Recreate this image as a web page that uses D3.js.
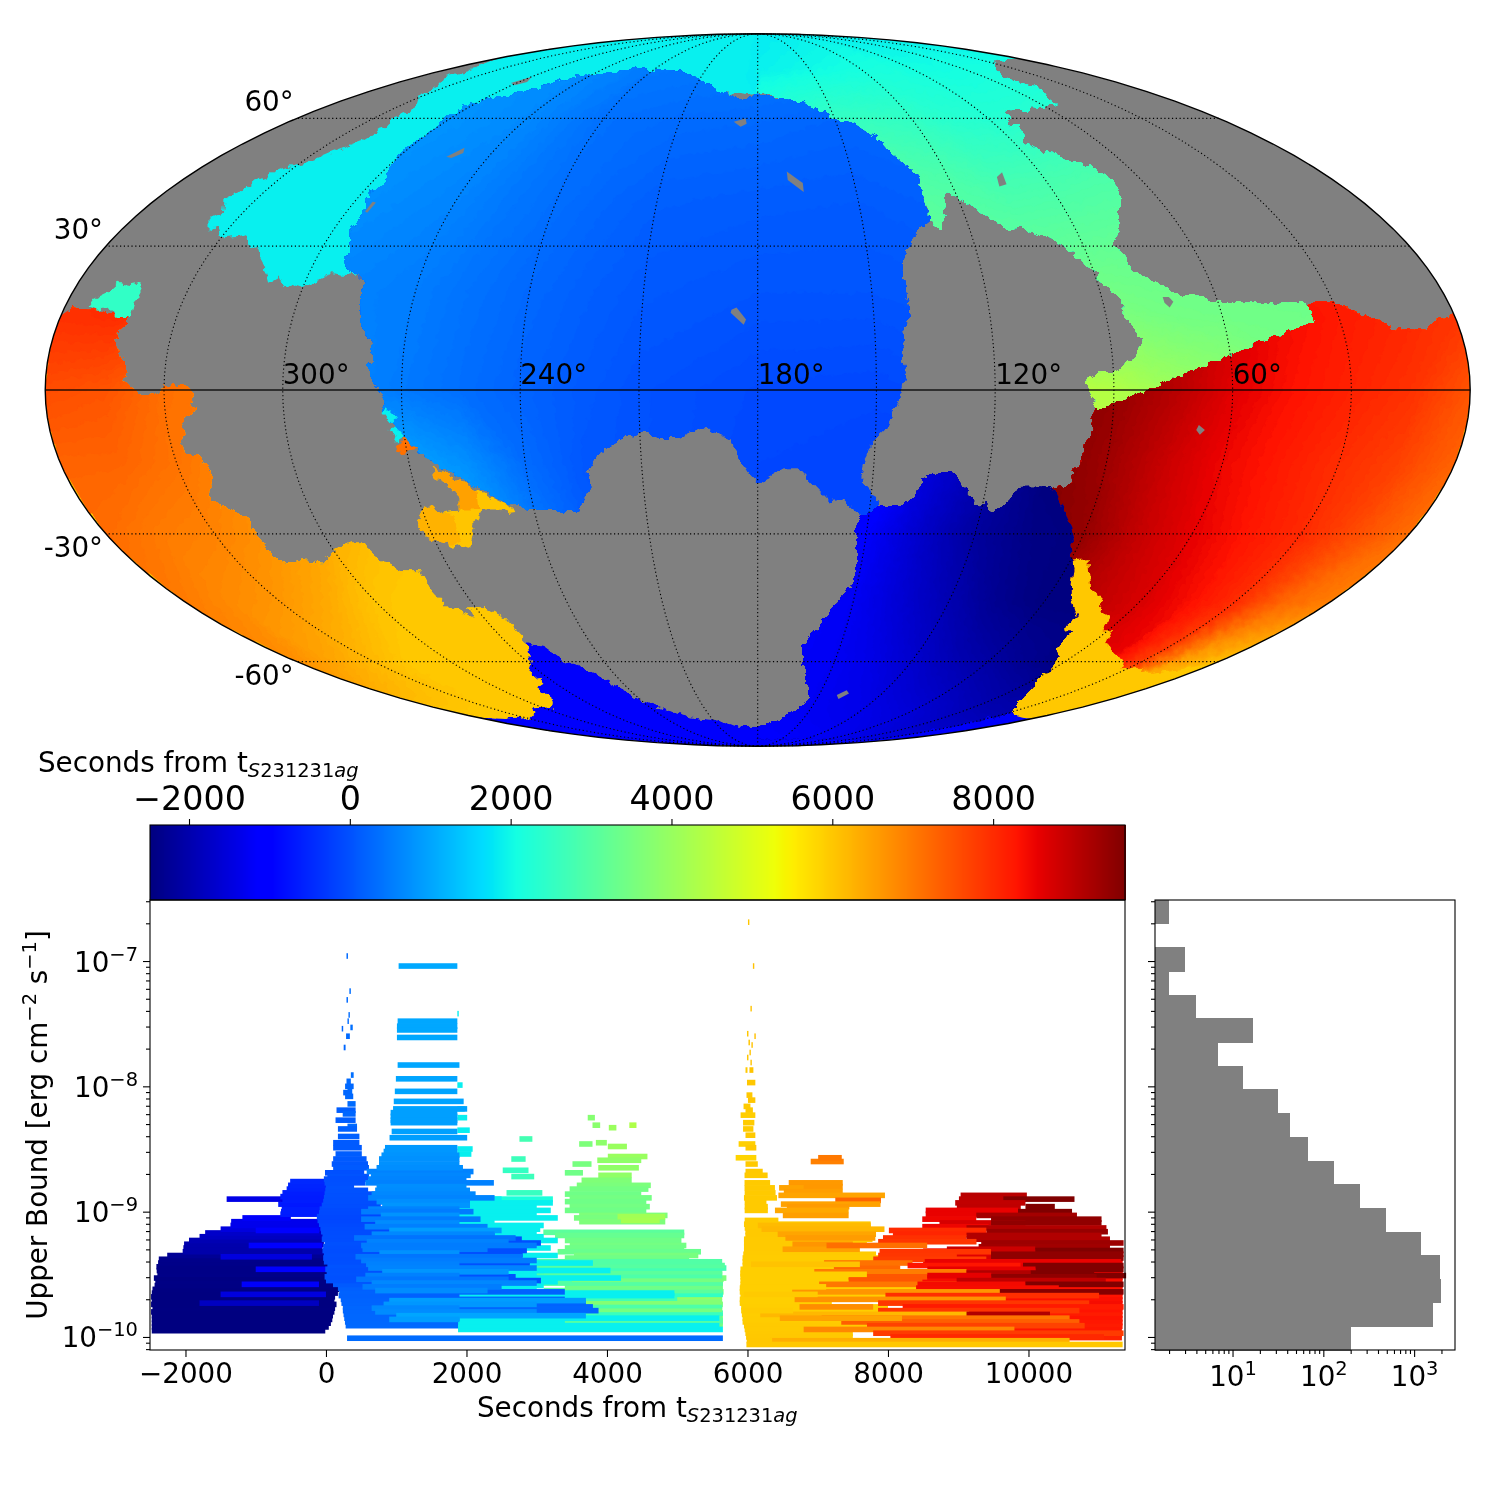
<!DOCTYPE html>
<html><head><meta charset="utf-8">
<script src="https://cdn.jsdelivr.net/npm/d3@7"></script>
<style>html,body{margin:0;padding:0;background:#fff}svg text{font-family:"DejaVu Sans",sans-serif;fill:#000}</style>
</head><body><svg id="fig" width="1500" height="1500" xmlns="http://www.w3.org/2000/svg"></svg>
<script>
// ---------- sky map: region outlines as [longitude, latitude] ----------
const warmEastRing=[[0.01,15.6],[6,14],[8.7,12.3],[13,12.7],[17,12.3],[19.7,14.4],[24.4,15.4],[29,18],[35.4,18],[41,16.5],[47,15],[51,14],[55.4,12.7],[59.3,11.6],[63.4,10.2],[67.5,8.6],[71.4,6.6],[76,5.5],[80.3,3.5],[84.2,2],[87.8,-0.6],[93.7,-3.5],[95.7,-5.5],[94.5,-8.2],[96.6,-11],[96.4,-15],[98.4,-17],[97.3,-19.3],[102.4,-20.3],[98.6,-24.3],[94.1,-28.6],[92,-31.6],[92.1,-33.1],[89.5,-35.8],[88,-37.4],[84,-43],[81,-45.5],[75.4,-48.8],[76.3,-51.2],[72,-52.6],[70.5,-56.4],[64,-59],[57.5,-65.5],[35.4,-73.5],[0.01,-77]];
const wedgeRing=[[89.5,-35.8],[88,-37.4],[84,-43],[81,-45.5],[75.4,-48.8],[76.3,-51.2],[72,-52.6],[70.5,-56.4],[64,-59],[57.5,-65.5],[35.4,-73.5],[0.01,-77],[0.01,-60.5],[16,-63],[21,-63],[24.5,-61.7],[33.4,-61.7],[39,-59.3],[41.5,-59],[55.3,-55],[59,-52],[62,-52],[64.3,-48.8],[70.4,-47],[73,-44],[79,-42],[83.5,-37.4],[85,-35.5]];
const warmWestRing=[[359.99,15.4],[357.9,17],[353.5,16.5],[351.2,16.5],[347.2,15.4],[343,15.4],[342,13.8],[344.5,11.6],[341.9,7.5],[339.5,3.7],[340.3,2],[338,0.4],[335.9,-1],[332.9,-1],[331,-0.4],[330,1],[327.7,1],[324.4,1],[322,-1],[323.5,-2.7],[322.3,-3.7],[326.2,-6.8],[325.7,-8.8],[327.6,-10.7],[326.8,-13.4],[324.5,-13.4],[322,-15.4],[322.3,-18.2],[324.7,-20.3],[324.5,-23.6],[321,-25],[318,-26.8],[318.6,-30.9],[318,-35.3],[316,-36.4],[310.5,-35.8],[305.5,-36.4],[302,-34.6],[298.6,-33.2],[294,-31.9],[291,-31.9],[288,-35.8],[285,-38],[279,-38],[279.7,-42],[279,-46.3],[273.4,-48.8],[272.4,-46.5],[267,-46.5],[263.3,-48.8],[262.7,-55.2],[269,-60.2],[273.5,-62.2],[275,-65.8],[281,-67],[284.6,-70.8],[292.6,-73],[307,-73.5],[324.6,-76.5],[359.99,-76.5]];
const cyanRing=[[359.99,78.3],[346.5,74],[345,71.6],[334,68.7],[331,66],[321,62.4],[323,60.2],[319.7,57.8],[319.5,54.5],[325,51.4],[328.5,48.8],[331.6,47.9],[335,46],[337.6,44.2],[337.6,41.8],[339.6,40.2],[336,37.3],[338,35.8],[334.6,32.9],[333.4,34.2],[330,31.9],[325.7,32.2],[323.5,32.6],[319.6,29.3],[318,30],[313,25.5],[309.7,22.2],[307.7,23.5],[305,21],[303,21.7],[300,21],[296.5,22.5],[293.7,24.2],[290,23.8],[270,25],[240,60],[180,66],[180,89.9],[270,89.9],[359.99,89]];
const greenRing=[[180,89.9],[90,89.9],[0.01,89],[0.01,78],[30,76.5],[49,71.9],[50,70.3],[45,68.8],[52,65.6],[54,63.7],[62,62.9],[66,63.1],[71.5,61.8],[75,62.4],[80.4,61.8],[80,60.2],[85,58.8],[82,57.8],[86,53.7],[84,51.4],[80,51.2],[79.3,50],[71.3,47.7],[69,44.8],[70.3,41.8],[77.2,34.2],[82,30],[79,27.5],[80.3,25.6],[77.6,23.6],[74.2,22],[71.6,21],[70,19.3],[65,19.5],[61,18],[52,18],[46,17.5],[42,18],[37,18],[37,14],[70,4],[94,-4],[96,-0.6],[97,1.6],[94.4,3.5],[90,3.7],[87.6,4.7],[85,6.2],[82,9.8],[83.6,13],[85.6,15.9],[84.7,18],[89,22.2],[89.4,24.2],[93,27.5],[96,30.4],[99.6,32.2],[103,33.3],[105.3,34.2],[108.5,33.3],[112.6,35.6],[116.6,38.6],[120.4,41],[122.4,41.8],[124,41.4],[125.2,37.3],[128,33.7],[130,34.2],[130,45],[150,60],[180,67],[186,70]];
const tealPatchRing=[[354,17.3],[353.6,18.8],[350.8,20.3],[349.5,22.2],[345.9,21.7],[343,22.2],[342,20.7],[342,19.2],[342.4,18],[341.8,15],[345.7,15],[348.5,17],[351.2,16.5]];
const centralRing=[[180,66.2],[185.2,65.1],[196.5,67],[206.8,70.3],[212,71.6],[220.7,73.5],[227.5,73.5],[240,74.1],[253,74.8],[256.7,73],[267,73],[280.5,71.2],[287,68.3],[293,66],[302,64.3],[302,60.5],[300,55.7],[300.7,51.3],[299.5,47.9],[295.5,43.7],[298,41.8],[295,38],[295,35.1],[295,32.9],[291.5,28.6],[292,27],[289.6,24.5],[286.4,24.2],[284.5,22.2],[284,19.2],[282.7,15.9],[282.2,13.8],[278.6,9.6],[277.6,6.2],[278.7,4.7],[276.6,1.4],[276,0],[274.6,-1.4],[275,-4.1],[270,-9.8],[266.4,-12.8],[263,-15.4],[256.5,-18.6],[252,-20.7],[246.6,-23.8],[244,-23.8],[241.8,-25],[234,-25],[228.8,-25.5],[226.3,-23],[224,-20.3],[224.4,-17],[220.4,-12.8],[214.4,-9.8],[209.5,-8.6],[205.3,-9.8],[200,-9.8],[194,-7.4],[186.6,-10.3],[184.9,-13.8],[181.8,-17.5],[180,-19],[176.4,-17.5],[173.3,-16.1],[169.6,-16.1],[161,-23],[157.2,-22.6],[153.7,-25],[151,-26.6],[147.4,-23.9],[150.4,-20.7],[153.1,-18.6],[152.6,-15],[151.1,-11],[147.7,-8.2],[144.1,-1.4],[142.3,3.5],[143.5,6.8],[142.5,10.3],[143.1,12.3],[140.5,15],[141,18.8],[141,22.4],[141.5,26.4],[138.1,30],[136.3,32.2],[130.1,35.8],[130.4,38],[130.3,41.8],[129.2,45.5],[132.8,48.8],[135.3,51.3],[137.7,55],[142.7,58.4],[151,60.5],[161,64.3],[172,65.6]];
const southRing=[[147.4,-23.9],[140.7,-23.9],[137,-20.3],[137.2,-18.6],[135,-17.2],[129.4,-16.8],[125.4,-20.7],[120.6,-24.3],[119.5,-23.3],[117,-25.6],[113.2,-23.3],[111.5,-20],[103.4,-19.8],[102.4,-20.3],[98.6,-24.3],[94.1,-28.6],[92,-31.6],[92.1,-33.1],[89.5,-35.8],[88,-37.4],[84,-43],[81,-45.5],[75.4,-48.8],[76.3,-51.2],[72,-52.6],[70.5,-56.4],[64,-59],[57.5,-65.5],[35.4,-73.5],[0.01,-77],[359.99,-76.5],[324.6,-76.5],[307,-73.5],[292.6,-73],[284.6,-70.8],[281,-67],[275,-65.8],[273.5,-62.2],[269,-60.2],[262.7,-55.2],[258,-56.3],[255,-60.5],[252.4,-60.5],[247.8,-63.3],[239,-71.5],[223.7,-76],[210.7,-77],[192.5,-80],[180,-80],[161.3,-76],[153.3,-71],[158,-65.8],[163.6,-56.1],[159.1,-50.7],[155.1,-45.5],[151.2,-40.8],[151.1,-35],[153.2,-28.6],[152.1,-26.2]];
const islandRing=[[264,-16.2],[258.3,-18.6],[252,-21.3],[250,-22.6],[245.4,-24.5],[245.2,-25.3],[247,-25.5],[249,-25],[254,-25],[256.6,-27.3],[261,-33],[263.7,-32.6],[266,-33],[267,-32],[270,-30.9],[272,-30.9],[272.4,-27.3],[268.5,-23.6],[265,-25.6],[260,-25],[259,-22.3],[261,-19.3],[264,-18]];
const islandUpperRing=[[264,-16.2],[258.3,-18.6],[254,-20.5],[255,-25],[260,-25],[259,-22.3],[261,-19.3],[264,-18]];
const islandLeftRing=[[272.4,-27.3],[268.5,-23.6],[265,-25.6],[262,-26],[263,-32],[266,-32.6],[267,-32],[272,-30.9]];
const orangeDotRing=[[272.6,-11.7],[270,-9.8],[267.4,-12.3],[272,-13]];
const cyanDotRings=[[[275,-4.5],[273.7,-3.7],[271.6,-5.7],[272.9,-6.8]],[[273.6,-8.2],[272.2,-7.4],[270,-9.6],[272,-10.5]]];
const greyHoleRings=[[[284,50.3],[281,52.5],[279.6,51.2],[282,50]],[[189.2,59.1],[184.7,60],[184.2,58.6],[186.4,57.8]],[[170.7,46.8],[166,44.1],[166,42],[170.6,44.8]],[[186.8,16.5],[185.5,17],[183,14.5],[183.6,13.4],[187,15.9]],[[294.6,37.6],[294.6,39.8],[293.4,39.6],[293.7,37.3]],[[104.6,45.5],[102,46.6],[103,43.8],[105.6,43.3]],[[74,19.2],[72.4,19.2],[71.6,18.2],[73,17],[74,18]],[[68,-7.2],[66.3,-8.2],[67.4,-9.2],[68.5,-8.2]],[[141.3,-69.4],[138.2,-68],[136,-68.9],[139,-70.6]],[[303,70],[299.7,71.9],[296,70.3],[298.6,69.4]]];
// flat arrival-time values of the single-colour regions (seconds)
const cyanSeconds=1880, wedgeSeconds=5978, tealPatchSeconds=2480, islandSeconds=6020, islandUpperSeconds=6480, islandLeftSeconds=6260, orangeDotSeconds=7100;
// ---------- sky map: seconds read on coarse lon/lat grids ----------
const eastLons=[0.01,15,30,45,60,75,90,105], eastLats=[30,15,0,-15,-30,-45,-60,-75];
const eastSeconds=[
[7800,8000,8200,8400,8800,9100,9300,9500],
[7900,8100,8250,8450,8800,9200,9400,9600],
[7500,7950,8150,8350,8650,9100,9450,9640],
[7300,7750,8000,8250,8500,8900,9350,9640],
[7150,7600,8050,8300,8600,8950,9450,9640],
[6950,7250,8000,8400,8750,9000,9300,9500],
[6100,6500,7700,8600,8800,9000,9000,9000],
[6000,6000,6500,7500,8000,8500,8800,9000]];
const westLons=[255,270,285,300,315,330,345,359.99], westLats=[30,15,0,-15,-30,-45,-60,-75];
const westSeconds=[
[7500,7500,7500,7500,7600,7800,8050,8000],
[7500,7500,7500,7500,7500,7700,8000,7950],
[6800,6800,6800,6800,7000,7150,7500,7600],
[6500,6500,6500,6700,6800,7100,7300,7300],
[6000,6000,6100,6400,6700,6900,7000,7200],
[5978,5978,5978,6050,6400,6650,6800,7000],
[5978,5978,5978,5978,5978,6200,6450,6750],
[5978,5978,5978,5978,5978,5978,5990,6000]];
const southLons=[30,60,75,90,105,120,135,150,165,180], southLats=[-15,-30,-45,-60,-75,-85];
const southSeconds=[
[-2485,-2485,-2485,-2485,-2485,-2000,-1500,-600,-300,-200],
[-2485,-2485,-2485,-2485,-2400,-2150,-1700,-1150,-1000,-900],
[-2485,-2485,-2485,-2485,-2300,-1950,-1600,-1250,-1100,-1000],
[-2400,-2450,-2300,-2100,-1900,-1650,-1400,-1250,-1200,-1150],
[-2000,-1850,-1700,-1550,-1450,-1350,-1300,-1250,-1200,-1150],
[-1500,-1400,-1350,-1300,-1250,-1200,-1200,-1150,-1150,-1150]];
const southBaseSeconds=-1180;
const centralLons=[120,150,180,210,225,240,255,270,300,320], centralLats=[80,60,40,20,0,-15,-30,-45];
const centralSeconds=[
[500,500,500,500,500,500,550,600,700,750],
[250,250,300,320,350,380,520,680,800,850],
[200,130,150,180,260,360,480,620,750,800],
[100,50,50,100,180,280,400,530,650,700],
[0,-100,-80,20,120,230,360,500,800,800],
[-100,-140,-110,20,80,330,750,1000,1200,1200],
[-150,-150,-120,40,130,500,1050,1250,1300,1300],
[-150,-150,-100,100,200,1000,1200,1300,1300,1300]];
const greenLons=[0.01,30,60,75,90,105,120,135,150,165,180], greenLats=[89.9,75,60,45,30,15,0,-15];
const greenSeconds=[
[1850,1850,1850,1850,1850,1850,1850,1850,1850,1850,1850],
[2100,2100,2100,2050,2100,2150,2100,2050,2000,1950,1900],
[2300,2300,2400,2350,2300,2350,2500,2550,2550,2450,2300],
[3000,3000,2950,2900,2800,2750,2900,3000,3000,2900,2800],
[3300,3300,3300,3250,3200,3150,3150,3300,3300,3300,3300],
[3400,3400,3450,3500,3650,3700,3700,3700,3700,3700,3700],
[3500,3500,3900,4100,4400,4500,4500,4500,4500,4500,4500],
[3500,3500,3900,4100,4500,4500,4500,4500,4500,4500,4500]];
// axes of the sky map
const meridianLons=[30,60,90,120,150,180,210,240,270,300,330];
const dottedParallels=[60,30,-30,-60];
const lonLabels=[300,240,180,120,60];
const latLabels=[60,30,-30,-60];
// ---------- upper-limit intervals: [start s, end s, log10 flux] ----------
const barsNavy=[[-2480,-10,-9.95],[-2480,40,-9.92],[-2480,70,-9.89],[-2480,90,-9.86],[-2480,100,-9.83],[-2490,120,-9.80],[-2470,130,-9.77],[-2490,150,-9.74],[-2480,120,-9.71],[-2490,130,-9.68],[-2480,170,-9.65],[-2470,190,-9.62],[-2440,200,-9.59],[-2430,180,-9.56],[-2450,170,-9.53],[-2400,130,-9.50],[-2410,100,-9.47],[-2414,110,-9.44],[-2390,60,-9.41],[-2380,80,-9.38],[-2260,20,-9.35],[-2040,40,-9.32],[-2030,-50,-9.29],[-2020,-30,-9.26],[-1950,-40,-9.23],[-1800,-30,-9.20],[-1720,-60,-9.17],[-1500,-70,-9.14],[-1360,-80,-9.11],[-1350,-100,-9.08],[-1190,-500,-9.05],[-1800,-100,-9.73],[-1500,0,-9.66],[-1200,-100,-9.58],[-1000,100,-9.46],[-1500,-200,-9.36],[-1100,-50,-9.27],[-1000,-100,-9.15],[-650,0,-9.02],[-640,-50,-9.00],[-630,10,-8.97],[-680,0,-8.94],[-640,40,-8.91],[-1414,-620,-8.90],[-650,-20,-8.88],[-620,50,-8.85],[-560,60,-8.82],[-540,80,-8.79],[-510,20,-8.76]];
const barsSpike=[[292,313,-6.96],[333,354,-7.24],[292,313,-7.31],[320,340,-7.43],[306,326,-7.48],[347,381,-7.53],[224,245,-7.54],[286,340,-7.6],[252,279,-7.69],[354,394,-7.91],[292,354,-7.96],[272,394,-8.0],[306,374,-8.04],[245,340,-8.05],[272,388,-8.08],[306,422,-8.14],[150,422,-8.19],[238,422,-8.22],[136,422,-8.27],[306,442,-8.32],[170,442,-8.34],[170,476,-8.4],[102,476,-8.45],[102,510,-8.49],[136,510,-8.54],[102,578,-8.58],[82,598,-8.62],[102,612,-8.65],[-14,544,-8.69],[20,612,-8.72]];
const barsBlueCore=[[280,1880,-9.91],[270,1880,-9.88],[260,1900,-9.85],[250,3100,-9.82],[240,3880,-9.79],[240,3800,-9.76],[220,3700,-9.73],[210,3400,-9.70],[180,1900,-9.67],[190,3400,-9.64],[170,1900,-9.61],[100,1900,-9.58],[0,3060,-9.55],[-20,2700,-9.52],[10,2200,-9.49],[-10,2000,-9.46],[20,2900,-9.43],[-30,2900,-9.40],[-40,1900,-9.37],[-30,2800,-9.34],[-50,2860,-9.31],[-40,2000,-9.28],[-20,3060,-9.25],[-60,2788,-9.22],[-50,2400,-9.19],[-70,2312,-9.16],[-80,2100,-9.13],[-100,1836,-9.10],[-120,1500,-9.07],[-130,1000,-9.04],[-100,800,-9.01],[-90,816,-8.98],[-60,780,-8.95],[-40,820,-8.92],[-30,800,-8.89],[-20,760,-8.86],[-10,600,-8.83],[0,400,-8.80],[-20,560,-8.77],[-30,600,-8.74]];
const barsBlueLight=[[580,2100,-8.68],[640,2060,-8.71],[600,2000,-8.74],[560,2390,-8.77],[720,2000,-8.80],[700,2050,-8.83],[650,2130,-8.86],[600,2400,-8.89],[720,2050,-8.92],[800,2050,-8.95],[600,1900,-8.98],[500,2100,-9.0],[780,1900,-9.03],[500,2200,-9.06],[700,1900,-9.09],[550,2300,-9.12],[900,2500,-9.15],[650,2400,-9.18],[400,2700,-9.21],[580,2600,-9.24],[500,3000,-9.27],[520,2300,-9.30],[760,1900,-9.33],[420,2800,-9.36],[500,3000,-9.39],[570,1900,-9.42],[600,3000,-9.45],[800,2600,-9.48],[560,1900,-9.51],[430,2600,-9.54],[650,3000,-9.57],[520,2500,-9.6],[700,2300,-9.63],[900,3700,-9.71],[820,3000,-9.74],[650,1900,-9.77],[700,3000,-9.8],[1000,3700,-9.83],[900,1900,-9.86]];
const barsBlueTop=[[1034,1870,-7.04],[1020,1870,-7.48],[1010,1870,-7.52],[1010,1870,-7.55],[1010,1870,-7.61],[1020,1900,-7.83],[995,1870,-7.94],[980,1870,-8.04],[965,1960,-8.12],[955,2010,-8.18],[920,1870,-8.21],[920,1870,-8.24],[920,1870,-8.27],[920,1870,-8.29],[935,1870,-8.36],[905,2010,-8.41],[840,1870,-8.49],[820,1870,-8.52],[790,1900,-8.55],[755,1900,-8.58],[755,1900,-8.62],[720,1950,-8.65]];
const barsCyan=[[1880,5650,-9.94],[1880,5600,-9.91],[1880,3400,-9.88],[1880,5600,-9.85],[1880,3100,-9.82],[1880,3600,-9.79],[1880,3000,-9.76],[1880,3500,-9.73],[1880,3300,-9.70],[1880,4960,-9.67],[1880,4960,-9.65],[1880,3000,-9.62],[1880,3100,-9.59],[1880,3300,-9.56],[1880,4200,-9.53],[1880,3000,-9.50],[1880,4050,-9.47],[1880,2300,-9.44],[1880,3800,-9.41],[1880,2500,-9.38],[1880,3300,-9.35],[1880,2800,-9.32],[1880,3200,-9.29],[1880,2400,-9.26],[1880,3300,-9.23],[1880,3100,-9.20],[1880,3000,-9.17],[1880,3050,-9.14],[1880,3100,-9.11],[1880,2400,-9.08],[1880,3300,-9.05],[1880,3000,-9.02],[1880,3200,-8.99],[1880,3000,-8.96],[1880,3230,-8.93],[1880,2500,-8.90],[1870,2088,-8.5],[1870,2070,-8.54],[1870,2047,-8.35],[1870,2010,-8.25],[1870,1975,-8.18],[1870,1945,-7.99],[1870,1890,-7.42]];
const barsTeal=[[2162,3230,-8.9],[2200,3060,-8.92],[2570,3080,-8.85],[2638,2964,-8.72],[2516,2883,-8.67],[2638,2842,-8.58],[2754,2938,-8.42],[3400,5650,-9.9],[3000,5650,-9.87],[3200,5640,-9.84],[2600,5650,-9.81],[3500,5640,-9.78],[2900,5640,-9.75],[3700,5640,-9.72],[2700,5000,-9.69],[2500,5650,-9.66],[3100,5640,-9.63],[3400,5650,-9.6],[3000,5650,-9.57],[3500,5660,-9.54],[2900,5640,-9.51],[3100,5640,-9.48],[2750,5700,-9.45],[3026,5678,-9.43],[2950,5640,-9.4]];
const barsGreen=[[3726,3828,-8.25],[3794,3903,-8.31],[4026,4134,-8.33],[4318,4420,-8.31],[3604,3794,-8.46],[3842,3998,-8.45],[4012,4284,-8.48],[4012,4576,-8.56],[3862,4488,-8.59],[3509,3780,-8.62],[3876,4454,-8.65],[3400,3658,-8.69],[3876,4352,-8.71],[3638,4352,-8.75],[3570,4624,-8.79],[3468,4590,-8.82],[3400,4488,-8.86],[3468,4637,-8.89],[3400,4560,-8.92],[3468,4610,-8.96],[3400,4560,-8.99],[3604,4862,-9.03],[3530,4540,-9.05],[3604,4830,-9.08],[4150,4830,-9.04],[4200,4750,-9.07],[3094,5100,-9.165],[3260,5100,-9.19],[3400,5060,-9.23],[3470,5130,-9.27],[3400,5100,-9.29],[3298,5338,-9.32],[3530,5300,-9.35],[3400,5170,-9.37],[3340,5440,-9.40],[3400,5640,-9.47],[3500,5640,-9.50],[3600,5700,-9.53],[3700,5650,-9.56],[3800,5640,-9.61],[3500,5660,-9.64],[3900,5640,-9.68],[3600,5650,-9.74],[4000,5640,-9.79],[3700,5650,-9.83],[4300,5650,-9.88]];
const barsBottomBlue=[[300,5650,-10.01]];
const barsYellowSpike=[[6007,6021,-6.69],[6077,6091,-7.04],[6042,6056,-7.38],[5993,6014,-7.58],[6098,6112,-7.6],[6014,6035,-7.65],[6056,6070,-7.67],[6028,6042,-7.73],[5993,6014,-7.77],[6042,6056,-7.81],[5972,6000,-7.87],[6028,6084,-7.87],[5993,6112,-7.97],[5986,6070,-8.07],[6007,6112,-8.11],[5944,6042,-8.16],[5972,6077,-8.19],[5902,6112,-8.23],[5937,6098,-8.29],[5937,6084,-8.34],[5972,6112,-8.39],[5874,6112,-8.46],[5972,6126,-8.49],[5832,6126,-8.57],[5972,6147,-8.62],[5972,6217,-8.68],[5958,6287,-8.71],[5958,6322,-8.77],[5958,6391,-8.81]];
const barsYellow=[[5960,6400,-8.85],[5950,6420,-8.89],[5960,6270,-8.92],[5960,6290,-8.96],[5960,6290,-8.99],[5960,6440,-9.07],[5950,7754,-9.10],[5960,7754,-9.13],[5970,7810,-9.16],[5970,7810,-9.19],[5950,7780,-9.22],[5950,7700,-9.25],[5950,7120,-9.28],[5950,7120,-9.31],[5940,7830,-9.34],[5930,8180,-9.37],[5930,8180,-9.40],[5930,8150,-9.43],[5900,8000,-9.46],[5900,8540,-9.49],[5900,8400,-9.52],[5900,8400,-9.55],[5900,8000,-9.58],[5890,9250,-9.61],[5890,9250,-9.64],[5900,8800,-9.67],[5890,7200,-9.70],[5890,7200,-9.73],[5910,8000,-9.76],[5910,8000,-9.79],[5920,9150,-9.82],[5930,7800,-9.85],[5930,7800,-9.88],[5950,7700,-9.91],[5960,7400,-9.94],[5970,7500,-9.97],[5980,7500,-10.0],[5990,7600,-10.03]];
const barsOrange=[[6900,7370,-8.6],[7006,7342,-8.57],[6587,7356,-8.77],[6600,7356,-8.8],[6450,6800,-8.81],[6517,7356,-8.84],[6440,7957,-8.87],[7250,7900,-8.91],[6475,7894,-8.94],[6560,7450,-8.96],[6391,7440,-8.99],[6503,7440,-9.03],[6147,7754,-9.11],[6200,7950,-9.14],[6430,7830,-9.18],[6540,7820,-9.21],[6640,7500,-9.26],[6500,7600,-9.3]];
const barsRedFill=[[8500,11340,-9.315],[8600,11340,-9.345],[8700,11340,-9.375],[8500,11340,-9.405],[8600,11340,-9.435],[8700,11340,-9.465],[8500,11340,-9.495],[8450,11340,-9.525],[8400,11340,-9.555],[8500,11340,-9.585],[8350,11340,-9.615],[8400,11340,-9.645],[8300,11340,-9.675],[8350,11340,-9.705],[8400,11340,-9.735],[8250,11340,-9.765],[8300,11340,-9.795],[8200,11340,-9.825],[8300,11340,-9.855],[8250,11340,-9.885],[8200,11340,-9.915],[8250,11330,-9.945],[8150,11330,-9.975],[8100,11330,-10.005]];
const barsRed=[[9034,9977,-8.87],[9010,9960,-8.90],[9642,10655,-8.90],[8957,9957,-8.93],[9957,10375,-8.96],[8980,9890,-8.96],[9850,10620,-9.0],[8537,9851,-8.99],[8537,9851,-9.02],[9257,10690,-9.03],[8488,9257,-9.06],[9467,11040,-9.06],[8733,9957,-9.09],[9467,11040,-9.09],[8488,9432,-9.12],[9118,11110,-9.13],[9400,11131,-9.16],[8013,9400,-9.15],[8070,9400,-9.18],[9118,11040,-9.19],[7929,9118,-9.21],[9118,11160,-9.22],[7860,9260,-9.24],[9327,11354,-9.25],[7125,8558,-9.27],[9290,11160,-9.28],[8838,10096,-9.3],[7880,9467,-9.32],[10096,11354,-9.31],[9467,11354,-9.34],[7860,8980,-9.35],[9467,11354,-9.37],[7790,9400,-9.38],[8523,11320,-9.40],[7090,8349,-9.41],[9922,11354,-9.43],[8279,9887,-9.43],[7230,8174,-9.45],[10100,11354,-9.46],[8560,10100,-9.46],[6951,9118,-9.48],[10026,10935,-9.49],[9118,10026,-9.49],[10900,11390,-9.51],[7440,8558,-9.52],[8560,9470,-9.51],[9470,10970,-9.52],[7440,8490,-9.55],[8977,11100,-9.55],[7020,8977,-9.58],[8420,9957,-9.58],[9957,11354,-9.58],[8400,10432,-9.61],[6636,9593,-9.64],[9593,11354,-9.64],[7964,11005,-9.67],[6671,9677,-9.70],[7859,10865,-9.73],[8209,11354,-9.76],[6741,7789,-9.76],[7859,10725,-9.79],[6182,9153,-9.82],[9118,10306,-9.82],[7056,10585,-9.85],[7335,10725,-9.88],[6460,8200,-9.85],[7700,10800,-9.91],[6800,9800,-9.94],[7789,11354,-9.97],[8034,11075,-10.0],[6321,10585,-10.03],[6000,6350,-10.03]];
const barsYellowTop=[[5985,11340,-10.06],[5900,7120,-9.6],[5940,6650,-9.79],[5950,7000,-9.66],[5900,7700,-9.5],[6050,7600,-9.42]];
// histogram: counts in equal log-flux bins, brightest bin first
const histCounts=[2,0,3,2,4,17,7,13,32,43,68,131,254,490,1190,1930,1976,1615,201];
const scatterXTicks=[-2000,0,2000,4000,6000,8000,10000];
const colorbarTicks=[-2000,0,2000,4000,6000,8000];
const fluxDecades=[-7,-8,-9,-10];
const countDecades=[1,2,3];

// ---------- shared scales ----------
const jetR=d3.scaleLinear([0,.35,.66,.89,1],[0,0,1,1,.5]);
const jetG=d3.scaleLinear([0,.125,.375,.64,.91,1],[0,0,1,1,0,0]);
const jetB=d3.scaleLinear([0,.11,.34,.65,1],[.5,1,1,0,0]);
const secondsToUnit=d3.scaleLinear([-2485,9640],[0,1]).clamp(true);
const jet=s=>{const u=secondsToUnit(s);return d3.rgb(jetR(u)*255,jetG(u)*255,jetB(u)*255).formatHex();};
const svg=d3.select('#fig');
const FS=27.78;

// ---------- Mollweide projection ----------
function mollweideRaw(l,p){let t=p;const k=Math.PI*Math.sin(p);
  if(Math.abs(Math.abs(p)-Math.PI/2)<1e-7){t=Math.sign(p)*Math.PI;}
  else for(let i=0;i<40;i++){const d=(t+Math.sin(t)-k)/(1+Math.cos(t));t-=d;if(Math.abs(d)<1e-8)break;}
  t/=2;return [2*Math.SQRT2/Math.PI*l*Math.cos(t),Math.SQRT2*Math.sin(t)];}
const projection=d3.geoProjection(mollweideRaw).rotate([-180,0]).reflectX(true).scale(251.9).translate([757.7,390]).precision(.2);
const geo=d3.geoPath(projection);
const plane=d3.geoPath();
const polygon=ring=>{const closed=[...ring,ring[0]];let f={type:'Polygon',coordinates:[closed]};
  if(d3.geoArea(f)>2*Math.PI)f={type:'Polygon',coordinates:[closed.slice().reverse()]};return f;};
const defs=svg.append('defs');
const spherePath=geo({type:'Sphere'});
defs.append('clipPath').attr('id','sphereClip').append('path').attr('d',spherePath);
// pixelated edge of the healpix sky cells
const rough=defs.append('filter').attr('id','rough').attr('filterUnits','userSpaceOnUse').attr('x',0).attr('y',0).attr('width',1500).attr('height',770).attr('color-interpolation-filters','sRGB');
rough.append('feTurbulence').attr('type','fractalNoise').attr('baseFrequency',.13).attr('numOctaves',2).attr('seed',4).attr('result','n');
rough.append('feDisplacementMap').attr('in','SourceGraphic').attr('in2','n').attr('scale',9).attr('xChannelSelector','R').attr('yChannelSelector','G');
const limbMask=defs.append('mask').attr('id','limbBand').attr('maskUnits','userSpaceOnUse').attr('x',0).attr('y',0).attr('width',1500).attr('height',770);
limbMask.append('path').attr('d',spherePath).attr('fill','none').attr('stroke','#fff').attr('stroke-width',10);
const frame=svg.append('g');
frame.append('path').attr('d',spherePath).attr('fill','#808080');
const skyClip=frame.append('g').attr('clip-path','url(#sphereClip)');
const regions=skyClip.append('g').attr('filter','url(#rough)');
function flat(ring,seconds,color,target){(target||regions).append('path').attr('d',geo(polygon(ring))).attr('fill',color||jet(seconds));}
function contoured(id,ring,lons,lats,seconds,step,base){
  const d=geo(polygon(ring));
  defs.append('clipPath').attr('id',id).append('path').attr('d',d);
  const g=regions.append('g').attr('clip-path',`url(#${id})`);
  const values=seconds.flat();const lo=d3.min(values),hi=d3.max(values);
  g.append('path').attr('d',d).attr('fill',jet(base===undefined?lo:base));
  const lonAt=d3.scaleLinear(lons.map((_,i)=>i+.5),lons).clamp(true);
  const latAt=d3.scaleLinear(lats.map((_,i)=>i+.5),lats).clamp(true);
  const thresholds=d3.range(lo,hi,step);
  const cs=d3.contours().size([lons.length,lats.length]).thresholds(thresholds)(values);
  cs.forEach(c=>{const mp={type:'MultiPolygon',coordinates:c.coordinates.map(poly=>poly.map(r=>r.map(([x,y])=>projection([lonAt(x),latAt(y)]))))};
    g.append('path').attr('d',plane(mp)).attr('fill',jet(c.value)).attr('stroke',jet(c.value)).attr('stroke-width',.4);});
}
contoured('cW',warmWestRing,westLons,westLats,westSeconds,50);
contoured('cE',warmEastRing,eastLons,eastLats,eastSeconds,50);
flat(wedgeRing,wedgeSeconds);
flat(cyanRing,cyanSeconds);
contoured('cG',greenRing,greenLons,greenLats,greenSeconds,40);
flat(tealPatchRing,tealPatchSeconds);
contoured('cC',centralRing,centralLons,centralLats,centralSeconds,40);
contoured('cS',southRing,southLons,southLats,southSeconds,40,southBaseSeconds);
flat(islandRing,islandSeconds);flat(islandUpperRing,islandUpperSeconds);flat(islandLeftRing,islandLeftSeconds);
flat(orangeDotRing,orangeDotSeconds);
cyanDotRings.forEach(r=>flat(r,cyanSeconds));
// the displaced layer may pull away from the limb, so the narrow limb band keeps the undisplaced colours
regions.clone(true).attr('filter',null).attr('mask','url(#limbBand)');
const map=frame.append('g');
greyHoleRings.forEach(r=>flat(r,0,'#808080',map));
// graticule
const latSpan=d3.range(-90,90.1,3), lonSpan=d3.range(0.01,360,3).concat([359.99]);
meridianLons.forEach(lon=>map.append('path').attr('d',geo({type:'LineString',coordinates:latSpan.map(lat=>[lon,lat])})).attr('fill','none').attr('stroke','#000').attr('stroke-width',1.1).attr('stroke-dasharray','1.2,2.6'));
dottedParallels.forEach(lat=>map.append('path').attr('d',geo({type:'LineString',coordinates:lonSpan.map(lon=>[lon,lat])})).attr('fill','none').attr('stroke','#000').attr('stroke-width',1.1).attr('stroke-dasharray','1.2,2.6'));
map.append('path').attr('d',geo({type:'LineString',coordinates:lonSpan.map(lon=>[lon,0])})).attr('fill','none').attr('stroke','#000').attr('stroke-width',1.6).attr('stroke-opacity',.85);
map.append('path').attr('d',spherePath).attr('fill','none').attr('stroke','#000').attr('stroke-width',1.4);
lonLabels.forEach(lon=>{const [x,y]=projection([lon,0]);map.append('text').attr('x',x).attr('y',y-6).attr('font-size',FS).text(lon+'°');});
latLabels.forEach(lat=>{const [x,y]=projection([359.99,lat]);map.append('text').attr('x',x-3).attr('y',y+(lat>0?-7:23)).attr('text-anchor','end').attr('font-size',FS).text(lat+'°');});

// ---------- subscript label helper ----------
function secondsLabel(sel){sel.append('tspan').text('Seconds from t');
  sel.append('tspan').attr('dy',5).attr('font-size',FS*.7).attr('font-style','italic').text('S');
  sel.append('tspan').attr('font-size',FS*.7).text('231231');
  sel.append('tspan').attr('font-size',FS*.7).attr('font-style','italic').text('ag');}

// ---------- colour bar ----------
const cbX=d3.scaleLinear([-2485,9640],[150,1125]);
const cb=svg.append('g');
const cbStops=d3.range(-2485,9640,12);
cb.selectAll('rect').data(cbStops).join('rect').attr('shape-rendering','crispEdges').attr('x',d=>cbX(d)).attr('y',825).attr('width',d=>cbX(d+12)-cbX(d)+.6).attr('height',75).attr('fill',d=>jet(d));
cb.append('rect').attr('x',150).attr('y',825).attr('width',975).attr('height',75).attr('fill','none').attr('stroke','#000').attr('stroke-width',1.1);
const cbAxis=svg.append('g').attr('transform','translate(0,825)').call(d3.axisTop(cbX).tickValues(colorbarTicks).tickSize(6).tickPadding(9).tickFormat(d3.format('')));
cbAxis.select('.domain').remove();cbAxis.selectAll('text').attr('font-size',33.33).attr('font-family','DejaVu Sans').text(d=>String(d).replace('-','−'));
secondsLabel(svg.append('text').attr('x',38).attr('y',772).attr('font-size',FS));

// ---------- interval plot ----------
const x=d3.scaleLinear([-2505,11374],[150,1125]);
const y=d3.scaleLog([Math.pow(10,-10.104),Math.pow(10,-6.513)],[1350,900]);
const allBars=[barsGreen,barsTeal,barsCyan,barsNavy,barsSpike,barsBlueCore,barsBlueLight,barsBlueTop,barsBottomBlue,barsRedFill,barsYellow,barsYellowSpike,barsOrange,barsRed,barsYellowTop];
const plot=svg.append('g');
allBars.forEach(group=>plot.append('g').selectAll('rect').data(group).join('rect')
  .attr('x',d=>x(d[0])).attr('width',d=>Math.max(1.4,x(d[1])-x(d[0])))
  .attr('y',d=>y(Math.pow(10,d[2]))-2.8).attr('height',5.6).attr('fill',d=>jet(d[0])));
function superTick(sel,base,exp){sel.text('').attr('font-size',FS);
  sel.append('tspan').text(base);sel.append('tspan').attr('dy',-11).attr('font-size',FS*.7).text(exp);}
const fluxMajor=fluxDecades.map(e=>Math.pow(10,e));
const fluxMinor=[];[-11,-10,-9,-8,-7].forEach(e=>d3.range(2,10).forEach(m=>{const v=m*Math.pow(10,e);if(v>y.domain()[0]&&v<y.domain()[1])fluxMinor.push(v);}));
const yMajor=svg.append('g').attr('transform','translate(150,0)').call(d3.axisLeft(y).tickValues(fluxMajor).tickSize(7).tickPadding(5).tickFormat(''));
yMajor.select('.domain').remove();
yMajor.selectAll('.tick text').each(function(d){superTick(d3.select(this).attr('dy','.36em'),'10','−'+Math.round(-Math.log10(d)));});
const yMinor=svg.append('g').attr('transform','translate(150,0)').call(d3.axisLeft(y).tickValues(fluxMinor).tickSize(4).tickFormat(''));
yMinor.select('.domain').remove();
const xAxis=svg.append('g').attr('transform','translate(0,1350)').call(d3.axisBottom(x).tickValues(scatterXTicks).tickSize(7).tickPadding(6).tickFormat(d3.format('')));
xAxis.select('.domain').remove();xAxis.selectAll('text').attr('font-size',FS).attr('font-family','DejaVu Sans').text(d=>String(d).replace('-','−'));
svg.append('rect').attr('x',150).attr('y',900).attr('width',975).attr('height',450).attr('fill','none').attr('stroke','#000').attr('stroke-width',1.1);
secondsLabel(svg.append('text').attr('x',477).attr('y',1417).attr('font-size',FS));
const yLab=svg.append('text').attr('transform','translate(47,1125) rotate(-90)').attr('text-anchor','middle').attr('font-size',FS);
yLab.append('tspan').text('Upper Bound [erg cm');yLab.append('tspan').attr('dy',-11).attr('font-size',FS*.7).text('−2');
yLab.append('tspan').attr('dy',11).text(' s');yLab.append('tspan').attr('dy',-11).attr('font-size',FS*.7).text('−1');yLab.append('tspan').attr('dy',11).text(']');

// ---------- histogram ----------
const hx=d3.scaleLog([1.4,2820],[1155,1455]);
const binLog=d3.scaleLinear([0,histCounts.length],[-6.513,-10.104]);
const hist=svg.append('g');
hist.selectAll('rect').data(histCounts).join('rect').attr('shape-rendering','crispEdges')
  .attr('x',1155).attr('width',d=>d>0?hx(d)-1155:0)
  .attr('y',(d,i)=>y(Math.pow(10,binLog(i)))).attr('height',(d,i)=>y(Math.pow(10,binLog(i+1)))-y(Math.pow(10,binLog(i)))+.5)
  .attr('fill','#808080');
const hMaj=svg.append('g').attr('transform','translate(1155,0)').call(d3.axisLeft(y).tickValues(fluxMajor).tickSize(7).tickFormat(''));hMaj.select('.domain').remove();
const hMin=svg.append('g').attr('transform','translate(1155,0)').call(d3.axisLeft(y).tickValues(fluxMinor).tickSize(4).tickFormat(''));hMin.select('.domain').remove();
const countMajor=countDecades.map(e=>Math.pow(10,e));
const countMinor=[];[0,1,2,3].forEach(e=>d3.range(2,10).forEach(m=>{const v=m*Math.pow(10,e);if(v>hx.domain()[0]&&v<hx.domain()[1])countMinor.push(v);}));
const hxMaj=svg.append('g').attr('transform','translate(0,1350)').call(d3.axisBottom(hx).tickValues(countMajor).tickSize(7).tickPadding(6).tickFormat(''));hxMaj.select('.domain').remove();
hxMaj.selectAll('.tick text').each(function(d){superTick(d3.select(this).attr('dy','.83em'),'10',String(Math.round(Math.log10(d))));});
const hxMin=svg.append('g').attr('transform','translate(0,1350)').call(d3.axisBottom(hx).tickValues(countMinor).tickSize(4).tickFormat(''));hxMin.select('.domain').remove();
svg.append('rect').attr('x',1155).attr('y',900).attr('width',300).attr('height',450).attr('fill','none').attr('stroke','#000').attr('stroke-width',1.1);
svg.selectAll('.tick line').attr('stroke','#000').attr('stroke-width',1.1);
svg.selectAll('.tick text').attr('fill','#000').attr('font-family','DejaVu Sans');
</script></body></html>
